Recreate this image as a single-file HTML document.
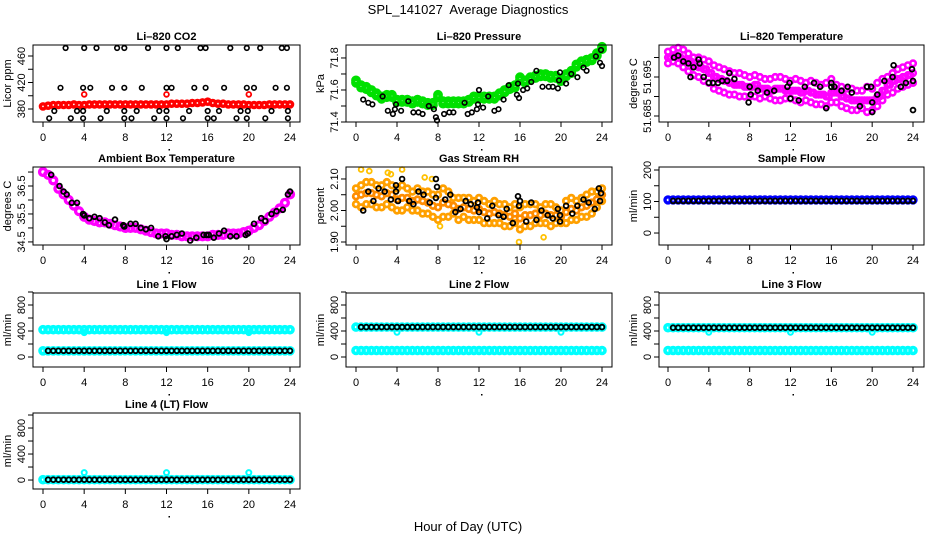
<!DOCTYPE html>
<html><head><meta charset="utf-8"><style>
html,body{margin:0;padding:0;background:#fff;}
svg{display:block;font-family:"Liberation Sans",sans-serif;}
</style></head><body>
<svg id="chart" width="936" height="540" viewBox="0 0 936 540" xmlns="http://www.w3.org/2000/svg">
<rect x="0" y="0" width="936" height="540" fill="#fff"/>
<text x="468" y="14" text-anchor="middle" font-size="13" xml:space="preserve">SPL_141027  Average Diagnostics</text>
<text x="468" y="531" text-anchor="middle" font-size="13">Hour of Day (UTC)</text>
</svg>
<script>
const H=[0,0.5,1,1.5,2,2.5,3,3.5,4,4.5,5,5.5,6,6.5,7,7.5,8,8.5,9,9.5,10,10.5,11,11.5,12,12.5,13,13.5,14,14.5,15,15.5,16,16.5,17,17.5,18,18.5,19,19.5,20,20.5,21,21.5,22,22.5,23,23.5,24];
const HB=[0.5,1,1.5,2,2.5,3,3.5,4,4.5,5,5.5,6,6.5,7,7.5,8,8.5,9,9.5,10,10.5,11,11.5,12,12.5,13,13.5,14,14.5,15,15.5,16,16.5,17,17.5,18,18.5,19,19.5,20,20.5,21,21.5,22,22.5,23,23.5,24];
const xTicks=[0,4,8,12,16,20,24];

// CO2
const co2Red=[384,385,386,386,386,386,387,386,386,387,387,387,387,387,387,387,387,387,387,387,387,387,387,387,387,388,388,388,388,389,389,390,391,389,388,388,387,387,387,387,386,386,386,386,387,387,387,387,387];
const co2OutHours=[4,12,20];
const co2OutVals=[402,402,402];
const co2BlackHours=[2.2,4.0,5.2,7.2,7.9,10.2,12.0,13.1,15.3,15.8,18.2,19.8,21.1,23.2,23.7,1.7,3.9,4.6,6.7,7.9,9.6,12.0,12.5,14.7,15.8,17.6,19.8,20.5,22.6,23.7,1.1,3.3,3.9,6.2,7.9,9.1,11.3,12.0,14.2,16.0,17.1,19.2,19.9,22.2,23.8,0.6,2.7,3.9,5.6,7.9,8.6,10.8,12.0,13.6,16.0,16.6,18.8,19.8,21.6,23.8];
const co2BlackVals=[472,472,472,472,472,472,472,472,472,472,472,472,472,472,472,412,412,412,412,412,412,412,412,412,412,412,412,412,412,412,377,377,377,377,377,377,377,377,377,377,377,377,377,377,377,366,366,366,366,366,366,366,366,366,366,366,366,366,366,366];

// Pressure
const presGreen=[71.66,71.63,71.62,71.6,71.58,71.56,71.57,71.57,71.54,71.54,71.54,71.53,71.54,71.53,71.52,71.52,71.57,71.53,71.53,71.53,71.53,71.53,71.54,71.56,71.56,71.56,71.56,71.56,71.58,71.6,71.62,71.63,71.68,71.66,71.68,71.69,71.7,71.7,71.69,71.69,71.67,71.7,71.72,71.76,71.78,71.79,71.8,71.83,71.87];
const presBlackHours=[0.7,1.2,1.6,2.6,3.1,3.6,3.8,3.9,4.4,5.1,5.6,6.1,6.5,7.1,7.8,7.9,7.6,8.6,9.1,9.5,10.6,10.9,11.3,11.8,11.9,12,12.4,12.9,13.5,13.9,14.4,14.9,15.7,15.9,15.8,16.3,16.7,17.1,17.6,18.2,18.8,19.2,19.7,19.8,19.9,20.5,21,21.6,22.2,22.5,23.4,23.8,23.9,24];
const presBlackVals=[71.54,71.52,71.51,71.56,71.47,71.45,71.48,71.51,71.47,71.53,71.46,71.46,71.45,71.5,71.43,71.41,71.48,71.45,71.46,71.46,71.52,71.45,71.46,71.48,71.51,71.6,71.49,71.56,71.47,71.48,71.54,71.63,71.57,71.55,71.64,71.6,71.61,71.65,71.72,71.62,71.62,71.62,71.61,71.66,71.71,71.64,71.7,71.68,71.74,71.72,71.81,71.77,71.85,71.75];

// Li-820 temperature
const tempMagA=[51.7015,51.702,51.7025,51.702,51.701,51.700,51.700,51.6995,51.699,51.698,51.6975,51.697,51.6965,51.696,51.696,51.6955,51.695,51.6955,51.695,51.6945,51.6945,51.695,51.695,51.6945,51.694,51.6945,51.694,51.6935,51.694,51.6935,51.693,51.6935,51.6945,51.693,51.6925,51.692,51.692,51.6915,51.6915,51.6925,51.692,51.6935,51.6945,51.695,51.696,51.697,51.6975,51.698,51.6985];
const tempMagB=[51.6985,51.699,51.6985,51.6975,51.6965,51.6955,51.695,51.694,51.6935,51.692,51.6915,51.691,51.6905,51.6905,51.690,51.690,51.690,51.690,51.6895,51.690,51.6895,51.689,51.689,51.6895,51.6895,51.689,51.6885,51.689,51.6885,51.688,51.688,51.6875,51.6885,51.6885,51.6875,51.687,51.6865,51.6865,51.687,51.686,51.6865,51.6875,51.689,51.6905,51.691,51.692,51.6925,51.693,51.6935];
const tempMagC=[51.700,51.7005,51.700,51.6995,51.699,51.698,51.6975,51.697,51.696,51.695,51.6945,51.694,51.6935,51.693,51.693,51.6925,51.6925,51.693,51.692,51.692,51.6915,51.692,51.692,51.6915,51.6915,51.6915,51.691,51.6915,51.691,51.6905,51.6905,51.690,51.691,51.691,51.690,51.6895,51.689,51.689,51.689,51.689,51.689,51.690,51.6915,51.693,51.694,51.6945,51.695,51.6955,51.696];
const tempBlackHours=[0.6,1,1.5,2,2.5,3,3.1,2.2,3.5,4,4.4,4.9,5.3,5.8,6,6.5,8,8.1,7.9,8.8,9.7,10.4,11.7,12.0,11.9,12.8,13.4,14.3,14.9,15.5,16,16,16.3,17,17.6,18,18.8,19.5,19.9,20,20,20.5,21.2,22,22.1,22.8,23.3,23.9,24,24];
const tempBlackVals=[51.700,51.7005,51.699,51.6985,51.6975,51.6995,51.6985,51.695,51.695,51.6935,51.6935,51.6935,51.694,51.694,51.696,51.6945,51.6925,51.6905,51.6885,51.6915,51.691,51.6915,51.6925,51.6895,51.6935,51.689,51.6925,51.6935,51.6925,51.687,51.6925,51.6935,51.6925,51.6915,51.6925,51.691,51.6875,51.6925,51.6925,51.686,51.6885,51.6905,51.694,51.695,51.698,51.6925,51.6935,51.697,51.694,51.6865];

// Ambient box temperature
const ambMag=[37.0,36.9,36.7,36.4,36.2,36.0,35.8,35.6,35.4,35.3,35.25,35.2,35.2,35.15,35.1,35.05,35.0,35.0,35.0,34.95,34.9,34.85,34.8,34.8,34.8,34.75,34.75,34.7,34.7,34.7,34.7,34.7,34.7,34.75,34.75,34.75,34.8,34.8,34.8,34.85,34.9,35.0,35.1,35.25,35.4,35.55,35.7,35.9,36.2];
const ambBlackHours=[0.8,1.6,2,2.3,2.8,3.3,3.9,4,4.5,5,5.5,6,6.4,7,7.8,7.9,8.5,9,9.5,10,10.5,11.2,11.9,12,12.5,13,13.5,14.3,14.9,15.6,15.9,16.1,16.6,17.1,17.6,18.2,18.8,19.7,19.9,20.5,21.2,21.6,22.2,22.7,23.3,23.8,24];
const ambBlackVals=[36.9,36.5,36.3,36.2,35.9,35.9,35.5,35.45,35.35,35.4,35.35,35.2,35.1,35.3,35.1,35.05,35.15,35.15,35.0,34.95,35.0,34.7,34.7,34.6,34.7,34.75,34.8,34.55,34.65,34.75,34.75,34.75,34.65,34.8,34.9,34.7,34.7,34.75,34.8,35.15,35.35,35.25,35.5,35.6,35.65,36.2,36.3];

// Gas stream RH
const rhA=[2.07,2.08,2.09,2.09,2.08,2.08,2.09,2.08,2.07,2.08,2.07,2.06,2.07,2.06,2.06,2.05,2.05,2.07,2.06,2.04,2.04,2.04,2.04,2.03,2.04,2.03,2.02,2.03,2.02,2.02,2.01,2.02,2.01,2.02,2.02,2.02,2.01,2.02,2.02,2.01,2.00,2.03,2.04,2.03,2.04,2.05,2.06,2.06,2.07];
const rhB=[2.02,2.01,2.02,2.02,2.01,2.01,2.02,2.01,2.00,2.00,2.01,2.00,2.00,1.99,1.99,1.98,1.97,1.98,1.98,1.99,1.97,1.98,1.97,1.97,1.97,1.96,1.96,1.96,1.96,1.95,1.95,1.96,1.94,1.95,1.95,1.96,1.96,1.96,1.95,1.96,1.96,1.96,1.97,1.97,1.98,1.98,1.99,2.01,2.03];
const rhC=[2.045,2.05,2.055,2.055,2.05,2.045,2.055,2.05,2.035,2.04,2.04,2.03,2.035,2.03,2.025,2.015,2.01,2.025,2.02,2.015,2.005,2.01,2.005,2.0,2.005,1.995,1.99,1.995,1.99,1.985,1.98,1.99,1.975,1.985,1.985,1.99,1.985,1.99,1.985,1.985,1.98,1.995,2.005,2.0,2.01,2.015,2.025,2.035,2.05];
const rhOutHours=[0.5,1.3,3.1,3.4,4.5,6.7,7.4,15.9,18.3,8.2];
const rhOutVals=[2.13,2.125,2.12,2.115,2.13,2.105,2.1,1.9,1.915,1.95];
const rhBlackHours=[0.7,1.2,1.7,2.2,2.8,3.4,3.9,3.9,4.1,4.5,5.2,5.6,6.1,6.6,7.2,7.8,7.9,7.8,8.7,9.2,9.7,10.2,10.7,11.2,11.8,11.9,12,12.8,13.3,13.9,14.4,14.7,15.3,15.8,15.9,16,16.6,17.1,17.6,18.1,18.7,19.2,19.7,19.9,19.9,20.5,21.1,21.6,22.2,22.7,23.3,23.7,23.8,23.9];
const rhBlackVals=[2.0,2.06,2.03,2.07,2.06,2.035,2.06,2.08,2.03,2.1,2.03,2.02,2.06,2.05,2.025,2.1,2.075,2.04,2.035,2.05,1.995,2.005,2.03,2.02,2.01,2.025,1.995,1.975,2.015,1.985,1.98,2.005,1.96,2.045,2.015,2.03,1.965,2.025,1.97,2.0,1.985,1.975,2.005,1.985,1.965,2.015,1.99,2.015,2.035,2.025,2.005,2.07,2.03,2.055];

// Flows
const sampleBlue=[105,105,105,105,105,105,105,105,105,105,105,105,105,105,105,105,105,105,105,105,105,105,105,105,105,105,105,105,105,105,105,105,105,105,105,105,105,105,105,105,105,105,105,105,105,105,105,105,105];
const sampleBlack=[102,102,102,102,102,102,102,102,102,102,102,102,102,102,102,102,102,102,102,102,102,102,102,102,102,102,102,102,102,102,102,102,102,102,102,102,102,102,102,102,102,102,102,102,102,102,102,102];
const l1CyanHi=[420,420,420,420,420,420,420,420,420,420,420,420,420,420,420,420,420,420,420,420,420,420,420,420,420,420,420,420,420,420,420,420,420,420,420,420,420,420,420,420,420,420,420,420,420,420,420,420,420];
const l1CyanLo=[95,95,95,95,95,95,95,95,95,95,95,95,95,95,95,95,95,95,95,95,95,95,95,95,95,95,95,95,95,95,95,95,95,95,95,95,95,95,95,95,95,95,95,95,95,95,95,95,95];
const l1Black=[95,95,95,95,95,95,95,95,95,95,95,95,95,95,95,95,95,95,95,95,95,95,95,95,95,95,95,95,95,95,95,95,95,95,95,95,95,95,95,95,95,95,95,95,95,95,95,95];
const l2CyanHi=[460,460,460,460,460,460,460,460,460,460,460,460,460,460,460,460,460,460,460,460,460,460,460,460,460,460,460,460,460,460,460,460,460,460,460,460,460,460,460,460,460,460,460,460,460,460,460,460,460];
const l2CyanLo=[100,100,100,100,100,100,100,100,100,100,100,100,100,100,100,100,100,100,100,100,100,100,100,100,100,100,100,100,100,100,100,100,100,100,100,100,100,100,100,100,100,100,100,100,100,100,100,100,100];
const l2Black=[460,460,460,460,460,460,460,460,460,460,460,460,460,460,460,460,460,460,460,460,460,460,460,460,460,460,460,460,460,460,460,460,460,460,460,460,460,460,460,460,460,460,460,460,460,460,460,460];
const l3CyanHi=[450,450,450,450,450,450,450,450,450,450,450,450,450,450,450,450,450,450,450,450,450,450,450,450,450,450,450,450,450,450,450,450,450,450,450,450,450,450,450,450,450,450,450,450,450,450,450,450,450];
const l3CyanLo=[100,100,100,100,100,100,100,100,100,100,100,100,100,100,100,100,100,100,100,100,100,100,100,100,100,100,100,100,100,100,100,100,100,100,100,100,100,100,100,100,100,100,100,100,100,100,100,100,100];
const l3Black=[450,450,450,450,450,450,450,450,450,450,450,450,450,450,450,450,450,450,450,450,450,450,450,450,450,450,450,450,450,450,450,450,450,450,450,450,450,450,450,450,450,450,450,450,450,450,450,450];
const l4Cyan=[5,5,5,5,5,5,5,5,5,5,5,5,5,5,5,5,5,5,5,5,5,5,5,5,5,5,5,5,5,5,5,5,5,5,5,5,5,5,5,5,5,5,5,5,5,5,5,5,5];
const l4Black=[5,5,5,5,5,5,5,5,5,5,5,5,5,5,5,5,5,5,5,5,5,5,5,5,5,5,5,5,5,5,5,5,5,5,5,5,5,5,5,5,5,5,5,5,5,5,5,5];
const flowDipHours=[4,12,20];
const l1DipVals=[375,375,375];
const l23DipVals=[380,380,380];
const l4OutVals=[115,115,115];

const svg=document.getElementById('chart');
const NS='http://www.w3.org/2000/svg';
function mk(tag,attrs,parent){const e=document.createElementNS(NS,tag);for(const k in attrs)e.setAttribute(k,attrs[k]);(parent||svg).appendChild(e);return e;}

const COLS=[{l:33,r:300,x0:43,x24:290},{l:346,r:612,x0:356,x24:602},{l:659,r:924,x0:668,x24:913}];
const ROWS=[{t:45,b:122},{t:167,b:245},{t:293,b:367},{t:413,b:489}];

function panel(name,col,row,title,ylab,ymin,ymax,ticks,labels){
  const C=COLS[col],R=ROWS[row];
  const g=mk('g',{});
  
  
  const xs=h=>C.x0+h/24*(C.x24-C.x0);
  const ys=v=>R.t+(ymax-v)/(ymax-ymin)*(R.b-R.t);
  const t=mk('text',{x:(C.l+C.r)/2,y:R.t-5,'text-anchor':'middle','font-size':11,'font-weight':'bold'},g);
  t.textContent=title;
  
  
  const plot=mk('g',{},g);
  
  
  const box=mk('rect',{x:C.l,y:R.t,width:C.r-C.l,height:R.b-R.t,fill:'none',stroke:'#000','stroke-width':1},g);
  
  
  const xa=mk('g',{},g);
  
  
  mk('line',{x1:xs(0),x2:xs(24),y1:R.b,y2:R.b,stroke:'#000'},xa);
  xTicks.forEach(v=>{
    mk('line',{x1:xs(v),x2:xs(v),y1:R.b,y2:R.b+5,stroke:'#000'},xa);
    const tl=mk('text',{x:xs(v),y:R.b+19,'text-anchor':'middle','font-size':11},xa);
    tl.textContent=v;
    
    
  });
  const dot=mk('rect',{x:xs(12)+2,y:R.b+27,width:1.5,height:1.5,fill:'#000'},xa);
  
  
  const ya=mk('g',{},g);
  
  
  mk('line',{x1:C.l,x2:C.l,y1:ys(ticks[0]),y2:ys(ticks[ticks.length-1]),stroke:'#000'},ya);
  ticks.forEach(v=>{mk('line',{x1:C.l-5,x2:C.l,y1:ys(v),y2:ys(v),stroke:'#000'},ya);});
  labels.forEach(v=>{
    const y=ys(v),x=C.l-8;
    const tl=mk('text',{x:x,y:y,'text-anchor':'middle','font-size':11,transform:`rotate(-90 ${x} ${y})`},ya);
    tl.textContent=v;
    
    
  });
  const yx=C.l-22,yy=(R.t+R.b)/2;
  const yl=mk('text',{x:yx,y:yy,'text-anchor':'middle','font-size':11,transform:`rotate(-90 ${yx} ${yy})`},g);
  yl.textContent=ylab;
  
  
  return {xs,ys,plot};
}
function pts(P,hours,vals,color,r,sw,nm){
  hours.forEach((h,i)=>{
    const c=mk('circle',{cx:P.xs(h).toFixed(1),cy:P.ys(vals[i]).toFixed(1),r:r,fill:'none',stroke:color,'stroke-width':sw},P.plot);
    
    
  });
}

let P;
P=panel('co2',0,0,'Li\u2013820 CO2','Licor ppm',360.4,476.6,[380,400,420,440,460],[380,420,460]);
pts(P,H,co2Red,'#ff0000',2.6,3.4,'co2-point');
pts(P,co2OutHours,co2OutVals,'#ff0000',2.4,1.8,'co2-outlier');
pts(P,co2BlackHours,co2BlackVals,'#000',2.3,1.6,'co2-diag-point');

P=panel('pressure',1,0,'Li\u2013820 Pressure','kPa',71.4,71.881,[71.4,71.5,71.6,71.7,71.8],['71.4','71.6','71.8']);
pts(P,H,presGreen,'#00e000',3.2,3.4,'pressure-point');
pts(P,H,presGreen.map(v=>v-0.015),'#00e000',3.2,3.4,'pressure-point');
pts(P,presBlackHours,presBlackVals,'#000',2.3,1.6,'pressure-diag-point');

P=panel('licor-temp',2,0,'Li\u2013820 Temperature','degrees C',51.68346,51.70321,[51.685,51.690,51.695,51.700],['51.685','51.695']);
pts(P,H,tempMagA,'#ff00ff',2.8,2.6,'temp-point');
pts(P,H,tempMagB,'#ff00ff',2.8,2.6,'temp-point');
pts(P,H.map(h=>h+0.25).slice(0,48),tempMagC,'#ff00ff',2.8,2.6,'temp-point');
pts(P,H,tempMagC,'#ff00ff',2.8,2.6,'temp-point');
pts(P,tempBlackHours,tempBlackVals,'#000',2.4,1.8,'temp-diag-point');

P=panel('ambient-temp',0,1,'Ambient Box Temperature','degrees C',34.39,37.18,[34.5,35,35.5,36,36.5,37],['34.5','35.5','36.5']);
pts(P,H,ambMag,'#ff00ff',3.4,3.4,'ambient-point');
pts(P,ambBlackHours,ambBlackVals,'#000',2.4,1.8,'ambient-diag-point');

P=panel('gas-rh',1,1,'Gas Stream RH','percent',1.8905,2.138,[1.90,1.95,2.00,2.05,2.10],['1.90','2.00','2.10']);
pts(P,H,rhA,'#ffa000',2.8,2.8,'rh-point');
pts(P,H,rhB,'#ffa000',2.8,2.8,'rh-point');
pts(P,H,rhC,'#ff8c00',2.8,2.8,'rh-point');
pts(P,rhOutHours,rhOutVals,'#ffc000',2.4,1.8,'rh-outlier');
pts(P,rhBlackHours,rhBlackVals,'#000',2.4,1.8,'rh-diag-point');

P=panel('sample-flow',2,1,'Sample Flow','ml/min',-38,209.5,[0,50,100,150,200],[0,100,200]);
pts(P,H,sampleBlue,'#0000ff',3,3.4,'sample-flow-point');
pts(P,HB,sampleBlack,'#000',2.4,1.8,'sample-flow-diag-point');

const flowTicks=[0,200,400,600,800,1000],flowLabels=[0,400,800];
P=panel('line1-flow',0,2,'Line 1 Flow','ml/min',-154,984.6,flowTicks,flowLabels);
pts(P,H,l1CyanHi,'#00ffff',3,3.6,'line1-flow-point');
pts(P,H,l1CyanLo,'#00ffff',3,3.6,'line1-flow-point');
pts(P,flowDipHours,l1DipVals,'#00ffff',2.5,2,'line1-flow-dip');
pts(P,HB,l1Black,'#000',2.4,1.8,'line1-diag-point');

P=panel('line2-flow',1,2,'Line 2 Flow','ml/min',-154,984.6,flowTicks,flowLabels);
pts(P,H,l2CyanHi,'#00ffff',3,3.6,'line2-flow-point');
pts(P,H,l2CyanLo,'#00ffff',3,3.6,'line2-flow-point');
pts(P,flowDipHours,l23DipVals,'#00ffff',2.5,2,'line2-flow-dip');
pts(P,HB,l2Black,'#000',2.4,1.8,'line2-diag-point');

P=panel('line3-flow',2,2,'Line 3 Flow','ml/min',-154,984.6,flowTicks,flowLabels);
pts(P,H,l3CyanHi,'#00ffff',3,3.6,'line3-flow-point');
pts(P,H,l3CyanLo,'#00ffff',3,3.6,'line3-flow-point');
pts(P,flowDipHours,l23DipVals,'#00ffff',2.5,2,'line3-flow-dip');
pts(P,HB,l3Black,'#000',2.4,1.8,'line3-diag-point');

P=panel('line4-flow',0,3,'Line 4 (LT) Flow','ml/min',-138,1031,flowTicks,flowLabels);
pts(P,H,l4Cyan,'#00ffff',3,3.6,'line4-flow-point');
pts(P,flowDipHours,l4OutVals,'#00ffff',2.5,2,'line4-flow-outlier');
pts(P,HB,l4Black,'#000',2.4,1.8,'line4-diag-point');
</script>
</body></html>
